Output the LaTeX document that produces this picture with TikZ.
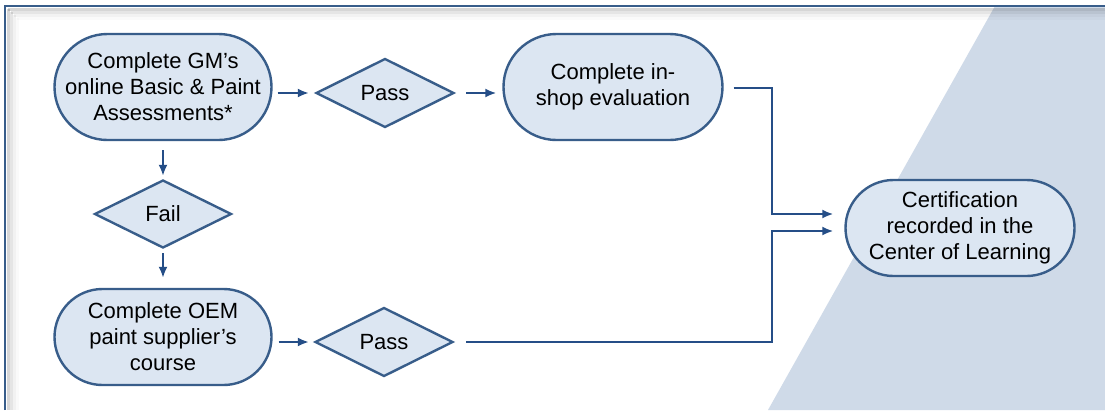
\documentclass[tikz,border=0pt]{standalone}
\usepackage{fontspec}
\setmainfont{Liberation Sans}
\usetikzlibrary{shapes.geometric,arrows.meta}
\definecolor{boxfill}{RGB}{220,230,242}
\definecolor{boxline}{RGB}{56,93,138}
\definecolor{flowline}{RGB}{37,78,135}
\definecolor{backtri}{RGB}{207,218,232}
\begin{document}
\begin{tikzpicture}[x=1pt, y=-1pt,
    stadium/.style={draw=boxline, line width=2.4pt, fill=boxfill, align=center, inner sep=0pt,
        font=\fontsize{22}{26}\selectfont},
    choice/.style={draw=boxline, line width=2.4pt, fill=boxfill, diamond, inner sep=0pt,
        minimum width=138pt, minimum height=69pt, font=\fontsize{22}{26}\selectfont},
    flow/.style={draw=flowline, line width=2pt, -{Latex[length=11pt,width=9pt]}},
    link/.style={draw=flowline, line width=2pt}]
			    % background and frame
			    \useasboundingbox (0, 0) rectangle (1105, 410);
			    \fill [white] (0, 0) rectangle (1105, 410);
			    \fill [backtri] (995, 6) -- (1105, 6) -- (1105, 410) -- (768, 410) -- cycle;
			    \foreach \d/\o in {2/0.16, 5/0.10, 8/0.05, 11/0.02} {
			        \draw [black, line width=3pt, opacity=\o] (6 + \d, 7 + \d) -- (1105, 7 + \d);
			        \draw [black, line width=3pt, opacity=\o] (6 + \d, 7 + \d) -- (6 + \d, 410);
			    }
			    \draw [boxline, line width=2pt] (5, 410) -- (5, 6) -- (1105, 6);

			    \node [stadium, minimum width=217pt, minimum height=106pt, rounded corners=53pt] at (163, 87) (gm)
			        {Complete GM’s\\online Basic \& Paint\\Assessments*};
			    \node [choice] at (385, 93) (pass1) {Pass};
			    \node [stadium, minimum width=219pt, minimum height=106pt, rounded corners=53pt] at (613, 87) (shop)
			        {Complete in-\\shop evaluation};
			    \node [choice, minimum width=137pt, minimum height=68pt] at (163, 214) (fail) {Fail};
			    \node [stadium, minimum width=217pt, minimum height=96pt, rounded corners=48pt] at (163, 337) (oem)
			        {Complete OEM\\paint supplier’s\\course};
			    \node [choice] at (384, 342) (pass2) {Pass};
			    \node [stadium, minimum width=229pt, minimum height=96pt, rounded corners=48pt] at (960, 228) (cert)
			        {Certification\\recorded in the\\Center of Learning};

			    \coordinate (j1) at (772, 88);
			    \coordinate (j2) at (772, 342);

			    \draw [flow, shorten <=5pt, shorten >=6pt] (gm.east |- pass1) -- (pass1.west);
			    \draw [flow, shorten <=11pt, shorten >=6pt] (pass1.east) -- (shop.west |- pass1);
			    \draw [flow, shorten <=9pt, shorten >=3pt] (gm.south) -- (fail.north);
			    \draw [flow, shorten <=4pt, shorten >=10pt] (fail.south) -- (oem.north);
			    \draw [flow, shorten <=6pt, shorten >=5pt] (oem.east |- pass2) -- (pass2.west);
			    \draw [flow, shorten <=10pt, shorten >=11pt] (shop.east |- j1) -- (j1) |- ([yshift=14pt]cert.west);
			    \draw [flow, shorten <=12pt, shorten >=11pt] (pass2.east) -- (j2) |- ([yshift=-3pt]cert.west);
		    \end{tikzpicture}
\end{document}
